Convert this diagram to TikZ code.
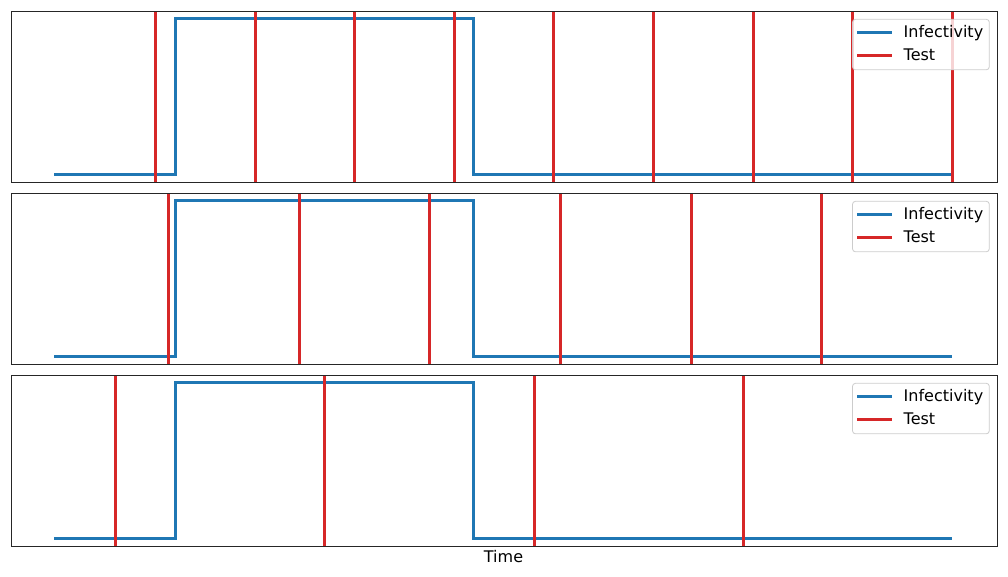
\documentclass[tikz,border=0pt]{standalone}
\usepackage{fontspec}
\setmainfont{DejaVu Sans}
\definecolor{tblue}{RGB}{31,119,180}
\definecolor{tred}{RGB}{214,39,40}
\definecolor{frame}{RGB}{38,38,38}
\definecolor{lgd}{RGB}{204,204,204}
\tikzset{
  infect/.style={tblue, line width=3pt, line join=miter},
  testline/.style={tred, line width=3pt},
  axframe/.style={frame, line width=1pt},
  legendbox/.style={draw=lgd, line width=0.8pt, fill=white, fill opacity=0.8, rounded corners=3pt},
  lgtext/.style={anchor=base west, inner sep=0pt, font=\fontsize{16}{19}\selectfont, text=black}
}
\begin{document}
\begin{tikzpicture}[x=1pt,y=-1pt]
\useasboundingbox (0,0) rectangle (1008,576);
\foreach \top/\tests in {11/{155.3,255,354.6,454.2,553.8,653.4,753,852.6,952.2},
                         193/{168.4,299.1,429.8,560.5,691.2,821.9},
                         375/{115.4,324.7,534,743.3}} {
  \begin{scope}[yshift=-\top pt]
    \draw[infect] (54,163) -- (175.5,163) -- (175.5,7.3) -- (473.7,7.3) -- (473.7,163) -- (952,163);
    \begin{scope}
      \clip (11,0) rectangle (997,171.3);
      \foreach \t in \tests { \draw[testline] (\t,0) -- (\t,171.3); }
    \end{scope}
    \draw[axframe] (11,0) rectangle (997,171.3);
    \draw[legendbox] (852.5,8.3) rectangle (989.3,58.8);
    \draw[infect] (857,21.3) -- (892,21.3);
    \draw[testline] (857,44.3) -- (892,44.3);
    \node[lgtext] at (903.5,26.8) {Infectivity};
    \node[lgtext] at (903.5,49.8) {Test};
  \end{scope}
}
\node[anchor=base, inner sep=0pt, font=\fontsize{16}{19}\selectfont] (xlabel) at (503.5,562.3) {Time};
\end{tikzpicture}
\end{document}
